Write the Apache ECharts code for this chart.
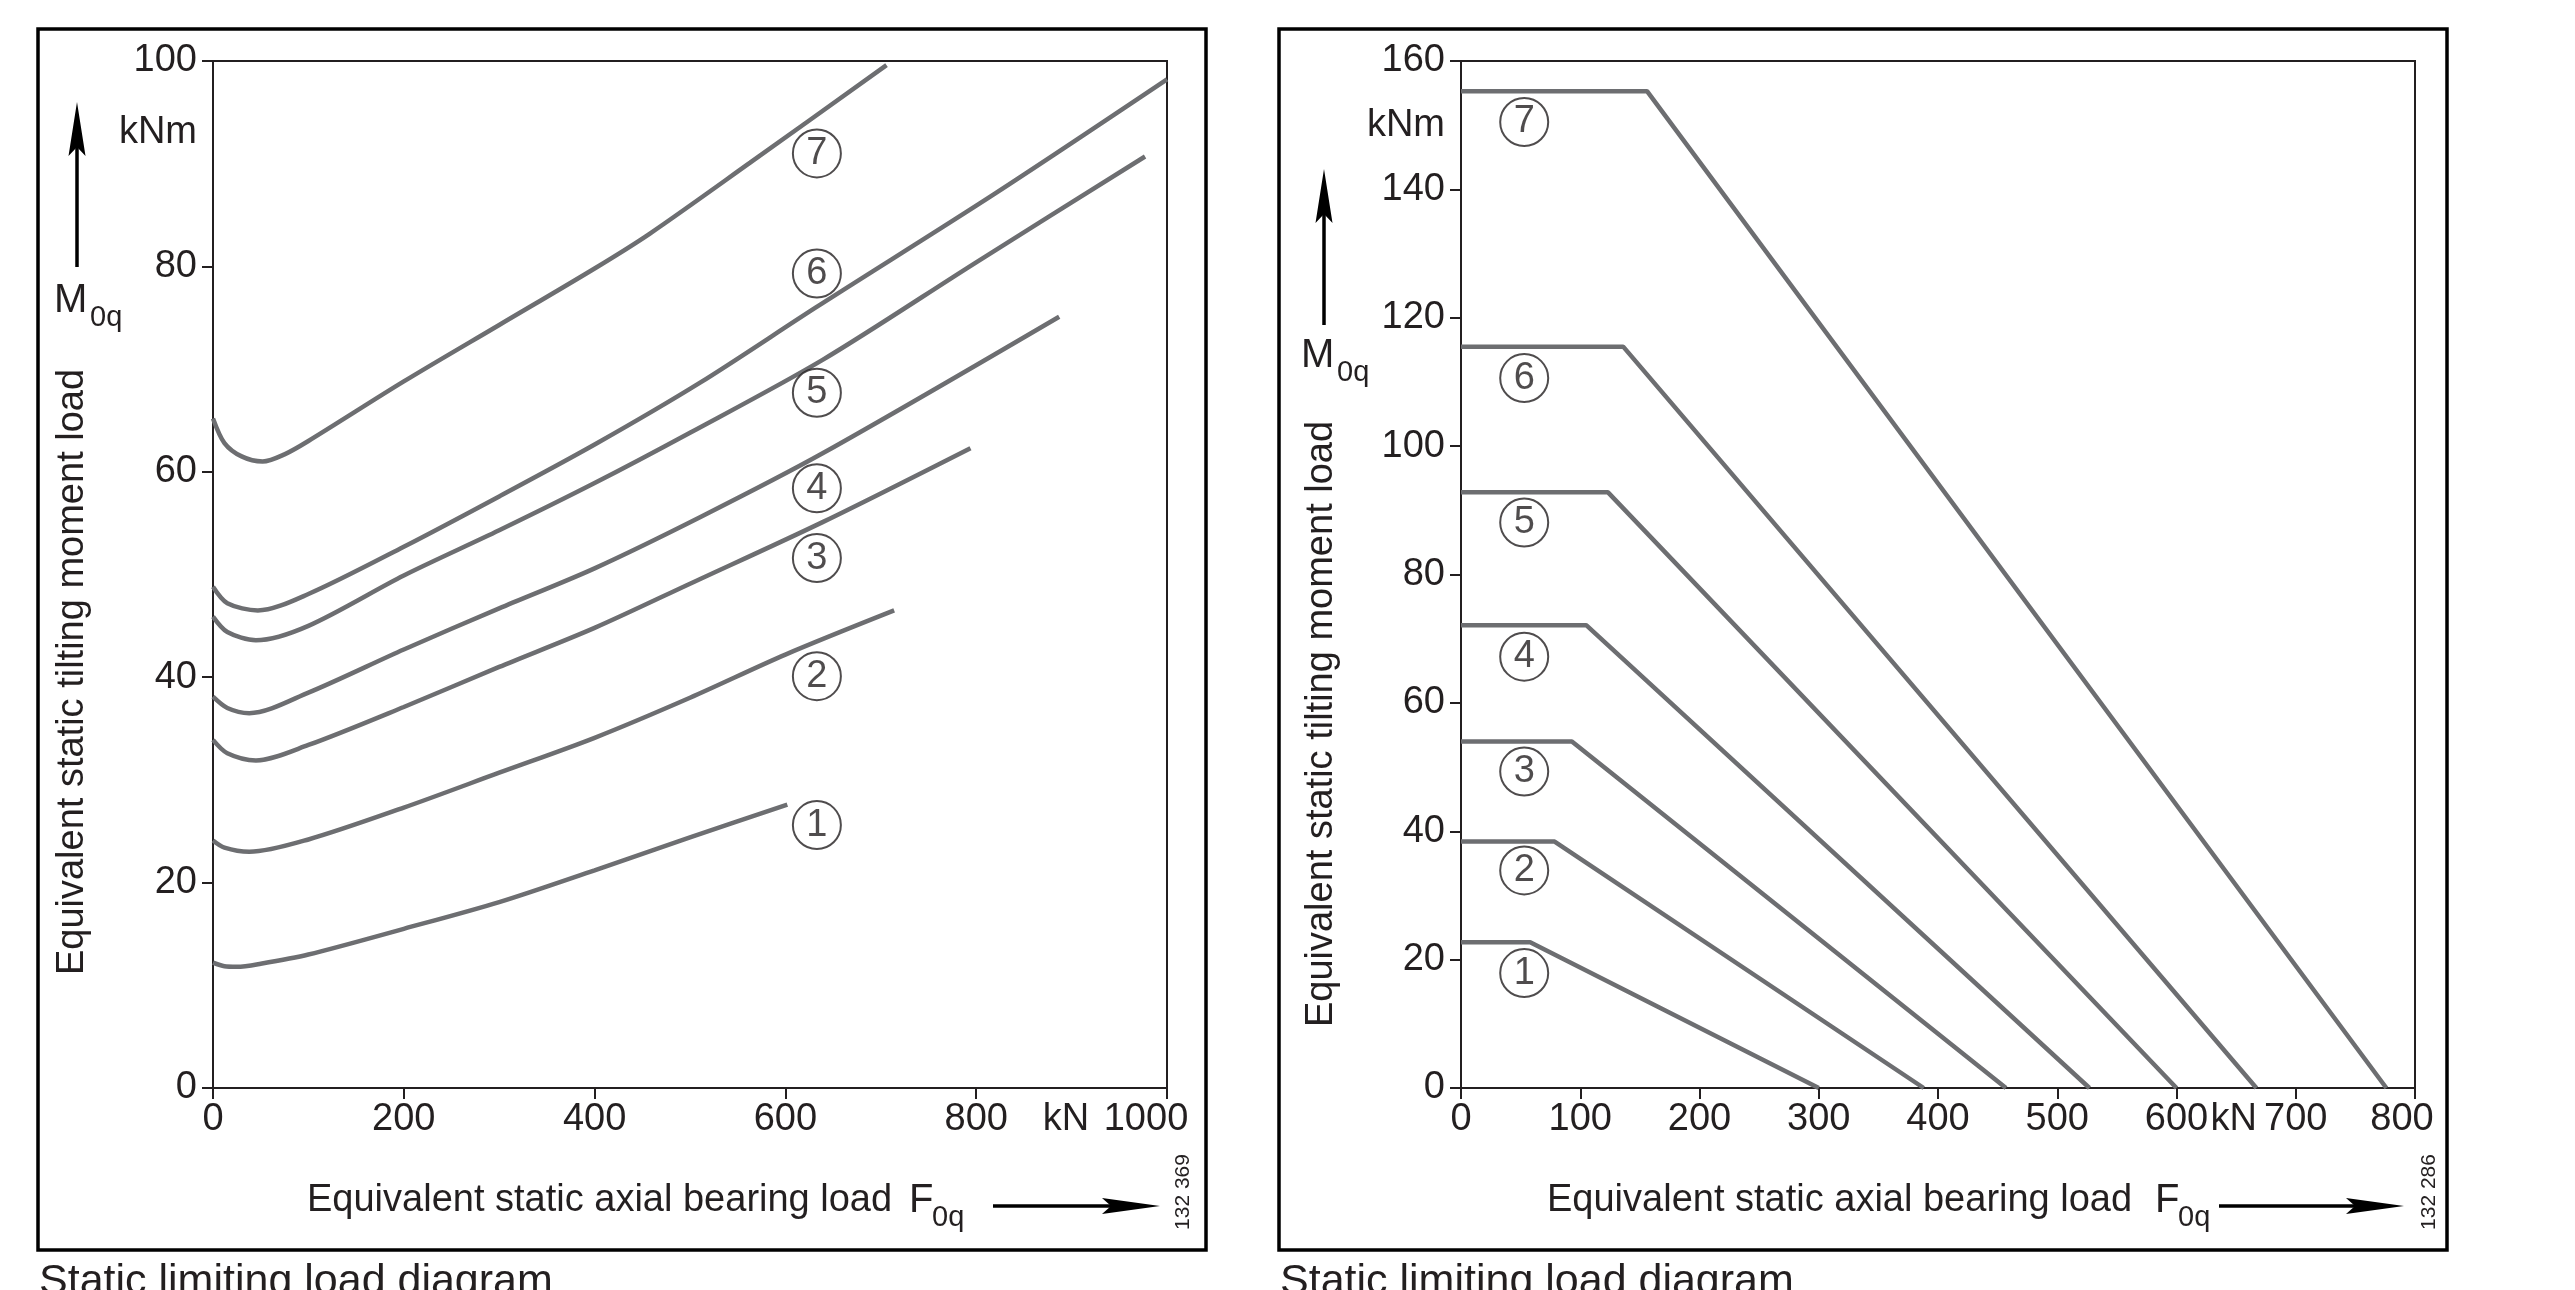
<!DOCTYPE html>
<html>
<head>
<meta charset="utf-8">
<script src="https://cdn.jsdelivr.net/npm/echarts@6/dist/echarts.min.js"></script>
<style>
  html, body { margin: 0; padding: 0; background: #fff; }
  #chart { width: 2575px; height: 1290px; }
</style>
</head>
<body>
<div id="chart"></div>
<script>
// colours / font
var INK = '#231f20';
var CURVE = '#6d6e71';
var FONT = '"Liberation Sans", Arial, Helvetica, sans-serif';

// ---- left diagram: curves, [F0q kN, M0q kNm]
var left1 = [[0,12.2],[12,11.85],[25,11.8],[50,12.1],[100,13.0],[200,15.5],[300,18.1],[400,21.2],[500,24.4],[602,27.6]];
var left2 = [[0,24.1],[12,23.4],[38,23.0],[100,24.2],[200,27.3],[300,30.7],[400,34.1],[500,38.0],[600,42.2],[714,46.5]];
var left3 = [[0,33.9],[15,32.6],[45,31.9],[100,33.4],[200,37.1],[300,41.0],[400,44.8],[500,49.1],[639,55.1],[794,62.3]];
var left4 = [[0,38.1],[15,37.0],[38,36.5],[100,38.5],[200,42.7],[300,46.7],[400,50.6],[511,55.6],[639,61.8],[887,75.1]];
var left5 = [[0,45.9],[15,44.4],[45,43.6],[100,45.0],[200,49.9],[300,54.3],[400,58.9],[500,63.8],[639,70.9],[800,80.4],[977,90.7]];
var left6 = [[0,48.8],[15,47.2],[47,46.5],[100,48.1],[200,52.7],[300,57.6],[401,62.7],[511,68.7],[632,76.0],[820,87.1],[1000,98.2]];
var left7 = [[0,65.2],[12,62.8],[30,61.5],[52,61.0],[75,61.7],[100,63.0],[200,68.8],[300,74.3],[400,79.8],[458,83.2],[563,90.1],[706,99.6]];
var leftCurves = [left1, left2, left3, left4, left5, left6, left7];

// circled curve numbers (left)
var leftTagX = 633;
var leftTagY = [25.6, 40.1, 51.6, 58.4, 67.7, 79.3, 91.0];

// ---- right diagram: flat level, knee and end on the axis
var rightLevel = [22.7, 38.4, 54.0, 72.1, 92.8, 115.5, 155.3];
var rightKnee  = [58, 78.5, 93, 105, 123.3, 136, 156];
var rightEnd   = [300, 388, 457, 527, 600, 667, 776];

var rightTagX = 53;
var rightTagY = [17.9, 33.9, 49.3, 67.2, 88.1, 110.6, 150.5];

var tagNames = ['1', '2', '3', '4', '5', '6', '7'];

// tick labels
var leftXTicks = [0, 200, 400, 600, 800, 1000];
var leftYTicks = [0, 20, 40, 60, 80, 100];
var rightXTicks = [0, 100, 200, 300, 400, 500, 600, 700, 800];
var rightYTicks = [0, 20, 40, 60, 80, 100, 120, 140, 160];
// unit labels sit between ticks
var leftXUnitAt = 894, leftYUnitAt = 93;
var rightXUnitAt = 648, rightYUnitAt = 150;

var chart = echarts.init(document.getElementById('chart'));

function gridBox(left) {
  return {
    left: left, top: 61, width: 954, height: 1027,
    show: true, borderColor: INK, borderWidth: 2, backgroundColor: 'transparent',
    outerBoundsMode: 'none'
  };
}

function xAx(idx, max, step, ticks, unitAt, lastPad) {
  return {
    type: 'value', gridIndex: idx, min: 0, max: max, interval: step,
    axisLine: { show: true, onZero: false, lineStyle: { color: INK, width: 2 } },
    axisTick: { show: true, length: 11, customValues: ticks, lineStyle: { color: INK, width: 2 } },
    axisLabel: {
      customValues: ticks.concat([unitAt]).sort(function (a, b) { return a - b; }),
      hideOverlap: false,
      margin: 13, color: INK, fontSize: 38, fontFamily: FONT,
      formatter: function (v) {
        if (v === unitAt) return 'kN';
        if (v === max) return '{e|' + v + '}';
        return String(v);
      },
      rich: { e: { fontSize: 38, fontFamily: FONT, color: INK, padding: [0, lastPad, 0, 0] } }
    },
    splitLine: { show: false }
  };
}

function yAx(idx, max, step, ticks, unitAt) {
  return {
    type: 'value', gridIndex: idx, min: 0, max: max, interval: step,
    axisLine: { show: true, onZero: false, lineStyle: { color: INK, width: 2 } },
    axisTick: { show: true, length: 11, customValues: ticks, lineStyle: { color: INK, width: 2 } },
    axisLabel: {
      customValues: ticks.concat([unitAt]).sort(function (a, b) { return a - b; }),
      hideOverlap: false,
      margin: 16, color: INK, fontSize: 38, fontFamily: FONT,
      formatter: function (v) { return v === unitAt ? 'kNm' : String(v); }
    },
    splitLine: { show: false }
  };
}

var series = [];
leftCurves.forEach(function (pts) {
  series.push({
    type: 'line', xAxisIndex: 0, yAxisIndex: 0, data: pts,
    smooth: 0.3, symbol: 'none', silent: true,
    lineStyle: { color: CURVE, width: 4.5 }, z: 2
  });
});
rightLevel.forEach(function (lvl, i) {
  series.push({
    type: 'line', xAxisIndex: 1, yAxisIndex: 1,
    data: [[0, lvl], [rightKnee[i], lvl], [rightEnd[i], 0]],
    symbol: 'none', silent: true,
    lineStyle: { color: CURVE, width: 4.5 }, z: 2
  });
});

function tagSeries(xi, tx, ty) {
  return {
    type: 'scatter', xAxisIndex: xi, yAxisIndex: xi, silent: true, z: 5,
    data: ty.map(function (y, i) { return [tx, y, tagNames[i]]; }),
    symbol: 'circle', symbolSize: 48,
    itemStyle: { color: '#fff', borderColor: INK, borderWidth: 2 },
    label: {
      show: true, position: 'inside', color: INK, fontSize: 38, fontFamily: FONT,
      formatter: function (p) { return p.value[2]; }
    }
  };
}
series.push(tagSeries(0, leftTagX, leftTagY));
series.push(tagSeries(1, rightTagX, rightTagY));

// decoration: frames, arrows, titles
function txt(x, y, s, size, align, rot) {
  return {
    type: 'text', x: x, y: y, rotation: rot || 0, silent: true,
    style: { text: s, x: 0, y: 0, fill: INK, fontSize: size, fontFamily: FONT,
             align: align || 'left', verticalAlign: 'middle' }
  };
}
function upArrow(x, tip, tail) {
  return [
    { type: 'line', silent: true, shape: { x1: x, y1: tail, x2: x, y2: tip + 30 },
      style: { stroke: '#000', lineWidth: 3.5 } },
    { type: 'polygon', silent: true,
      shape: { points: [[x, tip], [x - 8.5, tip + 54], [x, tip + 45], [x + 8.5, tip + 54]] },
      style: { fill: '#000' } }
  ];
}
function rightArrow(y, tail, tip) {
  return [
    { type: 'line', silent: true, shape: { x1: tail, y1: y, x2: tip - 30, y2: y },
      style: { stroke: '#000', lineWidth: 3.5 } },
    { type: 'polygon', silent: true,
      shape: { points: [[tip, y], [tip - 58, y - 8], [tip - 49, y], [tip - 58, y + 8]] },
      style: { fill: '#000' } }
  ];
}
function panel(frameX, yTitleX, yTitleY, arrowX, arrowTip, arrowTail, mX, mBase,
               xTitleX, fX, xArrTail, xArrTip, figNo, figX) {
  var els = [
    { type: 'rect', silent: true, shape: { x: frameX, y: 29, width: 1168, height: 1221 },
      style: { fill: 'none', stroke: '#000', lineWidth: 3.5 } },
    txt(yTitleX, yTitleY, 'Equivalent static tilting moment load', 38, 'center', Math.PI / 2),
    txt(mX, mBase - 14, 'M', 40),
    txt(mX + 36, mBase + 3, '0q', 29),
    txt(xTitleX, 1201, 'Equivalent static axial bearing load', 38),
    txt(fX, 1201, 'F', 40),
    txt(fX + 23, 1218, '0q', 29),
    txt(figX, 1192, figNo, 21, 'center', Math.PI / 2),
    txt(frameX + 1, 1282, 'Static limiting load diagram', 43)
  ];
  return els.concat(upArrow(arrowX, arrowTip, arrowTail), rightArrow(1206, xArrTail, xArrTip));
}

var graphics = []
  .concat(panel(38, 73, 672, 77, 102, 267, 54, 315, 307, 909, 993, 1160, '132 369', 1183))
  .concat(panel(1279, 1322, 724, 1324, 169, 325, 1301, 370, 1547, 2155, 2219, 2404, '132 286', 2429));

chart.setOption({
  backgroundColor: '#fff',
  animation: false,
  grid: [gridBox(213), gridBox(1461)],
  xAxis: [
    xAx(0, 1000, 200, leftXTicks, leftXUnitAt, 42),
    xAx(1, 800, 100, rightXTicks, rightXUnitAt, 26)
  ],
  yAxis: [
    yAx(0, 100, 20, leftYTicks, leftYUnitAt),
    yAx(1, 160, 20, rightYTicks, rightYUnitAt)
  ],
  series: series,
  graphic: { elements: graphics }
});
</script>
</body>
</html>
